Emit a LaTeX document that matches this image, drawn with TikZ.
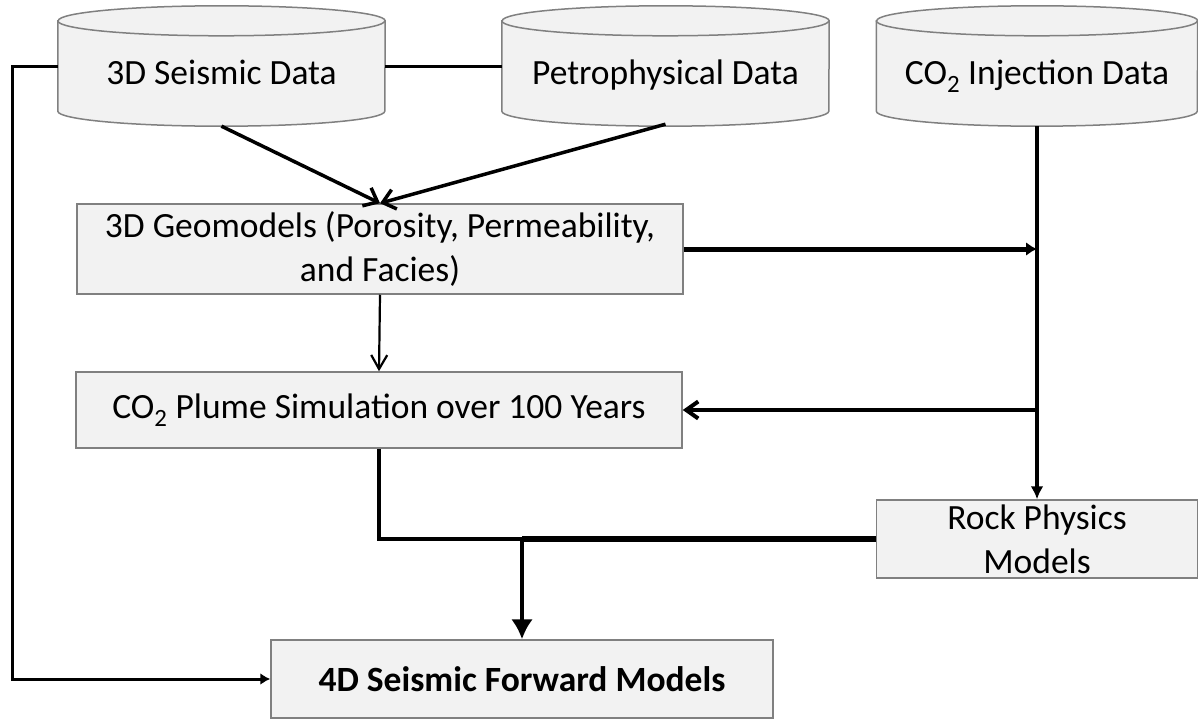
\documentclass[tikz,border=0pt]{standalone}
\usepackage{fontspec}
\setmainfont{Carlito}
\usepackage{tikz}
\usetikzlibrary{backgrounds,arrows.meta}

\begin{document}
\begin{tikzpicture}[x=1pt,y=1pt,
        every node/.style={font=\fontsize{35.5}{44}\selectfont},
        box/.style={draw=gray,line width=1.5pt,fill=gray!10,inner sep=0pt,align=center},
        dbtext/.style={inner sep=0pt,minimum height=75pt,text height=30pt,text depth=7pt,align=center},
        conn/.style={line width=3.5pt}]
        \useasboundingbox (0,0) rectangle (1198,-719);
        % data sources
        \node[dbtext,minimum width=327pt] (seis) at (221.5,-73.5) {3D Seismic Data};
        \node[dbtext,minimum width=327pt] (petro) at (665.5,-73.5) {Petrophysical Data};
        \node[dbtext,minimum width=321pt] (inj) at (1037,-73.5) {CO\textsubscript{2} Injection Data};
        \begin{scope}[on background layer]
            \foreach \n/\r in {seis/163.5,petro/163.5,inj/160.5} {
                \draw[draw=gray,line width=1.5pt,fill=gray!10] ([yshift=15pt]\n.north west) -- (\n.south west)
                    arc[start angle=180,end angle=360,x radius=\r,y radius=15] -- ([yshift=15pt]\n.north east)
                    arc[start angle=0,end angle=180,x radius=\r,y radius=15] -- cycle;
                \draw[draw=gray,line width=1.5pt] ([yshift=15pt]\n.north west)
                    arc[start angle=180,end angle=360,x radius=\r,y radius=15];
            }
        \end{scope}
        % models
        \node[box,minimum width=606pt,minimum height=90pt] (geo) at (380,-249) {3D Geomodels (Porosity, Permeability,\\ and Facies)};
        \node[box,minimum width=606pt,minimum height=76pt] (plume) at (379,-410) {CO\textsubscript{2} Plume Simulation over 100 Years};
        \node[box,minimum width=321pt,minimum height=78pt] (rock) at (1037,-539) {Rock Physics\\ Models};
        \node[box,minimum width=502pt,minimum height=78pt] (fwd) at (522,-679) {\bfseries 4D Seismic Forward Models};
        \coordinate (mrg) at (fwd.north |- rock.west);
        % connectors
        \draw[conn] ([yshift=7pt]seis.east) -- ([yshift=7pt]petro.west);
        \draw[line width=3pt,-{Latex[length=10pt,width=12pt]}] ([yshift=7pt]seis.west) -- ++(-45,0) |- (fwd.west);
        \draw[conn,-{Straight Barb[length=12pt,width=20pt]}] ([yshift=-15pt]seis.south) -- (geo.north);
        \draw[conn,-{Straight Barb[length=12pt,width=20pt]}] ([yshift=-13pt]petro.south) -- (geo.north);
        \draw[conn,-{Latex[length=13pt,width=13pt]}] ([yshift=-15pt]inj.south) -- (rock.north);
        \draw[line width=5pt,-{Latex[length=11pt,width=14pt]}] (geo.east) -- (geo.east -| inj.south);
        \draw[line width=2.2pt,-{Straight Barb[length=14pt,width=16pt]}] (geo.south) -- (plume.north);
        \draw[line width=4pt,-{Straight Barb[length=12pt,width=17pt]}] (plume.east -| inj.south) -- (plume.east);
        \draw[line width=4.5pt] (plume.south) |- (mrg);
        \draw[line width=6pt] (rock.west) -- (mrg);
        \draw[line width=4.5pt,-{Latex[length=20pt,width=22pt]}] (mrg) -- (fwd.north);
\end{tikzpicture}
\end{document}
